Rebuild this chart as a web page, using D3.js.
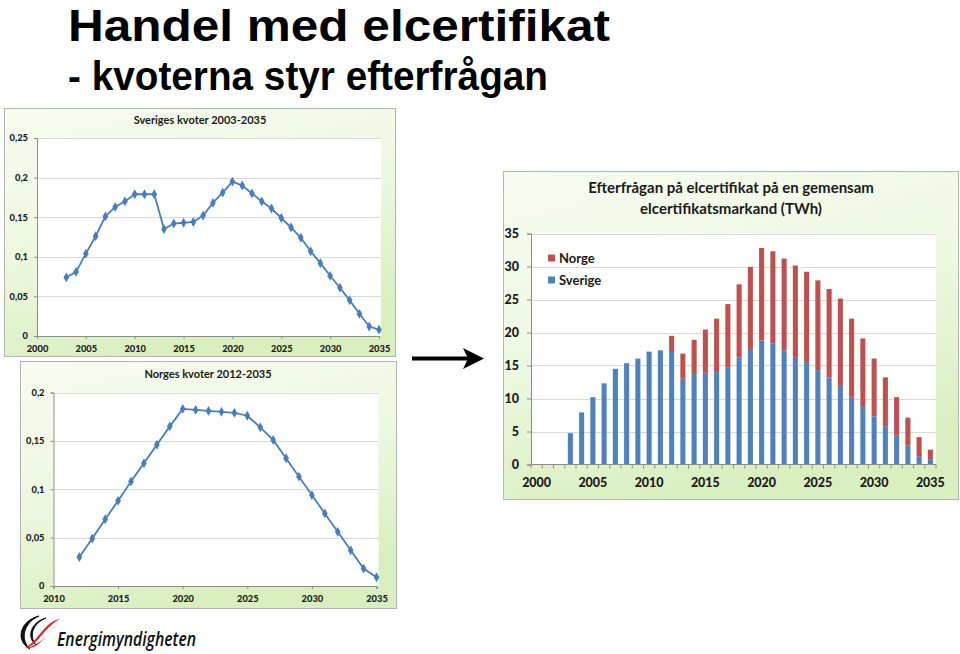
<!DOCTYPE html>
<html><head><meta charset="utf-8">
<script src="https://cdn.jsdelivr.net/npm/d3@7"></script>
<style>body{margin:0;background:#fff;overflow:hidden}</style>
</head><body>
<svg id="c" width="960" height="654"></svg>
<script>
// ---------- DATA ----------
const sweYears = [2003,2004,2005,2006,2007,2008,2009,2010,2011,2012,2013,2014,2015,2016,2017,2018,2019,2020,2021,2022,2023,2024,2025,2026,2027,2028,2029,2030,2031,2032,2033,2034,2035];
const sweQuota = [0.074,0.081,0.104,0.126,0.151,0.163,0.170,0.179,0.179,0.179,0.135,0.142,0.143,0.144,0.152,0.168,0.181,0.195,0.190,0.180,0.170,0.161,0.149,0.137,0.124,0.107,0.092,0.076,0.061,0.045,0.028,0.012,0.008];
const norYears = [2012,2013,2014,2015,2016,2017,2018,2019,2020,2021,2022,2023,2024,2025,2026,2027,2028,2029,2030,2031,2032,2033,2034,2035];
const norQuota = [0.030,0.049,0.069,0.088,0.108,0.127,0.146,0.165,0.183,0.182,0.181,0.180,0.179,0.176,0.164,0.151,0.132,0.113,0.094,0.075,0.056,0.037,0.018,0.009];
const barYears = [2000,2001,2002,2003,2004,2005,2006,2007,2008,2009,2010,2011,2012,2013,2014,2015,2016,2017,2018,2019,2020,2021,2022,2023,2024,2025,2026,2027,2028,2029,2030,2031,2032,2033,2034,2035];
const sverigeTWh = [0,0,0,4.75,7.9,10.2,12.3,14.5,15.35,16.05,17.1,17.3,17.2,13.0,13.7,13.9,14.0,14.65,16.2,17.5,18.8,18.3,17.3,16.3,15.55,14.3,13.2,11.9,10.25,8.85,7.3,5.8,4.35,2.85,1.25,0.8];
const norgeTWh   = [0,0,0,0,0,0,0,0,0,0,0,0,2.3,3.8,5.2,6.55,8.1,9.65,11.1,12.45,14.0,14.0,13.9,13.85,13.65,13.6,13.4,13.25,11.85,10.25,8.76,7.4,5.85,4.25,2.9,1.45];
const seriesNames = ["Sverige","Norge"];
const sweTicksX = [2000,2005,2010,2015,2020,2025,2030,2035];
const sweTicksY = [0,0.05,0.1,0.15,0.2,0.25];
const norTicksX = [2010,2015,2020,2025,2030,2035];
const norTicksY = [0,0.05,0.1,0.15,0.2];
const barTicksY = [0,5,10,15,20,25,30,35];
const barTickLabelsX = [2000,2005,2010,2015,2020,2025,2030,2035];

// ---------- STYLE ----------
const svg = d3.select("#c");
const FONT = "Lato, 'Open Sans', sans-serif";
const lineCol = "#4A7EBB";
const colors = {Sverige:"#4F81BD", Norge:"#C0504D"};
const gridCol = "#D9D9D9";
const axisCol = "#8C8C8C";
const comma = v => v===0 ? "0" : String(v).replace(".", ",");

const defs = svg.append("defs");
const g1 = defs.append("linearGradient").attr("id","pg").attr("x1",0).attr("y1",0).attr("x2",0.35).attr("y2",1);
g1.append("stop").attr("offset","0%").attr("stop-color","#F8FCF1");
g1.append("stop").attr("offset","55%").attr("stop-color","#EDF8E0");
g1.append("stop").attr("offset","100%").attr("stop-color","#D9EFC0");

// ---------- TITLES ----------
svg.append("text").attr("x",68).attr("y",41).attr("font-family","'Liberation Sans', Arial, sans-serif")
  .attr("font-weight","bold").attr("font-size",45).attr("textLength",542).attr("lengthAdjust","spacingAndGlyphs")
  .attr("fill","#000").text("Handel med elcertifikat");
svg.append("text").attr("x",68).attr("y",90).attr("font-family","'Liberation Sans', Arial, sans-serif")
  .attr("font-weight","bold").attr("font-size",40).attr("textLength",480).attr("lengthAdjust","spacingAndGlyphs")
  .attr("fill","#000").text("- kvoterna styr efterfrågan");

// ---------- LINE CHART helper ----------
function lineChart(cfg){
  const g = svg.append("g");
  g.append("rect").attr("x",cfg.panel[0]+0.5).attr("y",cfg.panel[1]+0.5)
    .attr("width",cfg.panel[2]-cfg.panel[0]).attr("height",cfg.panel[3]-cfg.panel[1])
    .attr("fill","url(#pg)").attr("stroke","#B4B4B4").attr("stroke-width",1);
  const x = d3.scaleLinear().domain(cfg.xDom).range(cfg.xR);
  const y = d3.scaleLinear().domain(cfg.yDom).range(cfg.yR);
  g.append("rect").attr("x",cfg.xR[0]).attr("y",cfg.yR[1]).attr("width",cfg.xR[1]-cfg.xR[0]+2)
    .attr("height",cfg.yR[0]-cfg.yR[1]).attr("fill","#fff");
  g.selectAll(".gl").data(cfg.ticksY.filter(d=>d>0)).enter().append("line")
    .attr("x1",cfg.xR[0]).attr("x2",cfg.xR[1]+2).attr("y1",d=>Math.round(y(d))+0.5).attr("y2",d=>Math.round(y(d))+0.5)
    .attr("stroke",gridCol).attr("stroke-width",1);
  const ay = g.append("g").attr("transform",`translate(${cfg.xR[0]},0)`)
    .call(d3.axisLeft(y).tickValues(cfg.ticksY).tickSize(3).tickFormat(comma));
  const ax = g.append("g").attr("transform",`translate(0,${cfg.yR[0]})`)
    .call(d3.axisBottom(x).tickValues(cfg.ticksX).tickSize(3).tickFormat(d3.format("d")));
  [ay,ax].forEach(a=>{
    a.select(".domain").attr("stroke",axisCol);
    a.selectAll(".tick line").attr("stroke",axisCol);
    a.selectAll("text").attr("font-family",FONT).attr("font-weight","900").attr("font-size",9.3).attr("fill","#1a1a1a");
  });
  ay.selectAll("text").attr("x",-9);
  ax.selectAll("text").attr("y",9);
  g.append("text").attr("x",cfg.titleX).attr("y",cfg.titleY).attr("text-anchor","middle")
    .attr("font-family",FONT).attr("font-weight","bold").attr("font-size",11).attr("fill","#1a1a1a").text(cfg.title);
  const pts = cfg.years.map((yr,i)=>[yr,cfg.vals[i]]);
  g.append("path").datum(pts).attr("fill","none").attr("stroke",lineCol).attr("stroke-width",1.8)
    .attr("d",d3.line().x(d=>x(d[0])).y(d=>y(d[1])));
  g.selectAll(".mk").data(pts).enter().append("path")
    .attr("transform",d=>`translate(${x(d[0])},${y(d[1])})`)
    .attr("d",d3.symbol(d3.symbolDiamond,28)).attr("fill",lineCol);
}

lineChart({panel:[4,108,395,356], xDom:[2000,2035], xR:[37,379], yDom:[0,0.25], yR:[336,138],
  ticksX:sweTicksX, ticksY:sweTicksY, years:sweYears, vals:sweQuota,
  title:"Sveriges kvoter 2003-2035", titleX:200, titleY:124});
lineChart({panel:[20,361,396,608], xDom:[2010,2035], xR:[53.5,376.5], yDom:[0,0.2], yR:[586,392.5],
  ticksX:norTicksX, ticksY:norTicksY, years:norYears, vals:norQuota,
  title:"Norges kvoter 2012-2035", titleX:208, titleY:378});

// ---------- ARROW ----------
svg.append("line").attr("x1",412).attr("x2",470).attr("y1",358.5).attr("y2",358.5).attr("stroke","#000").attr("stroke-width",4);
svg.append("path").attr("d","M463,348 L484,358.5 L463,369 L468,358.5 Z").attr("fill","#000");

// ---------- BAR CHART ----------
(function(){
  const g = svg.append("g");
  g.append("rect").attr("x",503.5).attr("y",171.5).attr("width",455).attr("height",328)
    .attr("fill","url(#pg)").attr("stroke","#B4B4B4");
  const x = d3.scaleBand().domain(barYears).range([531,936]).paddingInner(0.55).paddingOuter(0.275);
  const y = d3.scaleLinear().domain([0,35]).range([464.5,233.5]);
  g.append("rect").attr("x",531).attr("y",233.5).attr("width",405).attr("height",231).attr("fill","#fff");
  g.selectAll(".gl").data(barTicksY.filter(d=>d>0)).enter().append("line")
    .attr("x1",531).attr("x2",936).attr("y1",d=>Math.round(y(d))+0.5).attr("y2",d=>Math.round(y(d))+0.5)
    .attr("stroke",gridCol);
  const rows = barYears.map((yr,i)=>({year:yr, Sverige:sverigeTWh[i], Norge:norgeTWh[i]}));
  const stack = d3.stack().keys(seriesNames)(rows);
  g.selectAll(".s").data(stack).enter().append("g").attr("fill",d=>colors[d.key])
    .selectAll("rect").data(d=>d).enter().append("rect")
    .attr("x",d=>x(d.data.year)).attr("width",x.bandwidth())
    .attr("y",d=>y(d[1])).attr("height",d=>Math.max(0,y(d[0])-y(d[1])));
  const ay = g.append("g").attr("transform","translate(531,0)")
    .call(d3.axisLeft(y).tickValues(barTicksY).tickSize(4));
  ay.select(".domain").attr("stroke",axisCol);
  ay.selectAll(".tick line").attr("stroke",axisCol);
  ay.selectAll("text").attr("x",-12).attr("font-family",FONT).attr("font-weight","900").attr("font-size",12.5).attr("fill","#1a1a1a");
  g.append("line").attr("x1",531).attr("x2",936).attr("y1",464.5).attr("y2",464.5).attr("stroke",axisCol);
  const step = x.step();
  g.selectAll(".ct").data(barYears.concat([null])).enter().append("line")
    .attr("x1",(d,i)=>531+i*step).attr("x2",(d,i)=>531+i*step)
    .attr("y1",464.5).attr("y2",468.5).attr("stroke",axisCol);
  g.selectAll(".xl").data(barTickLabelsX).enter().append("text")
    .attr("x",d=>x(d)+x.bandwidth()/2).attr("y",487).attr("text-anchor","middle")
    .attr("font-family",FONT).attr("font-weight","900").attr("font-size",12.5).attr("fill","#1a1a1a").text(d=>d);
  g.append("text").attr("x",731).attr("y",193).attr("text-anchor","middle").attr("font-family",FONT)
    .attr("font-weight","bold").attr("font-size",15).attr("fill","#1a1a1a").text("Efterfrågan på elcertifikat på en gemensam");
  g.append("text").attr("x",731).attr("y",214).attr("text-anchor","middle").attr("font-family",FONT)
    .attr("font-weight","bold").attr("font-size",15).attr("fill","#1a1a1a").text("elcertifikatsmarkand (TWh)");
  const leg = [{k:"Norge",y:258},{k:"Sverige",y:280}];
  leg.forEach(l=>{
    g.append("rect").attr("x",548).attr("y",l.y-3.5).attr("width",7).attr("height",7).attr("fill",colors[l.k]);
    g.append("text").attr("x",559).attr("y",l.y+4.5).attr("font-family",FONT).attr("font-weight","bold")
      .attr("font-size",13).attr("fill","#1a1a1a").text(l.k);
  });
})();

// ---------- LOGO ----------
const lg = svg.append("g");
lg.append("path").attr("d","M39,616 C21,620 14,640 30,649 C20,640 23,623 39,616 Z").attr("fill","#111").attr("stroke","#111").attr("stroke-width",1);
lg.append("path").attr("d","M46,618 C31,622 26,637 36,645 C29,636 32,624 46,618 Z").attr("fill","#111").attr("stroke","#111").attr("stroke-width",1);
lg.append("path").attr("d","M25,648 C37,647 43,628 60,619 C51,620 45,628 39,635 C34,641 30,645 25,648 Z").attr("fill","#D7262E");
lg.append("path").attr("d","M26,648 C38,650 47,634 59,623 C50,632 41,645 26,648 Z").attr("fill","#D7262E");
lg.append("text").attr("x",57).attr("y",646).attr("font-family","'Open Sans', sans-serif").attr("font-style","italic")
  .attr("font-weight","600").attr("font-size",20).attr("textLength",139).attr("lengthAdjust","spacingAndGlyphs").attr("fill","#111").text("Energimyndigheten");
</script>
</body></html>
